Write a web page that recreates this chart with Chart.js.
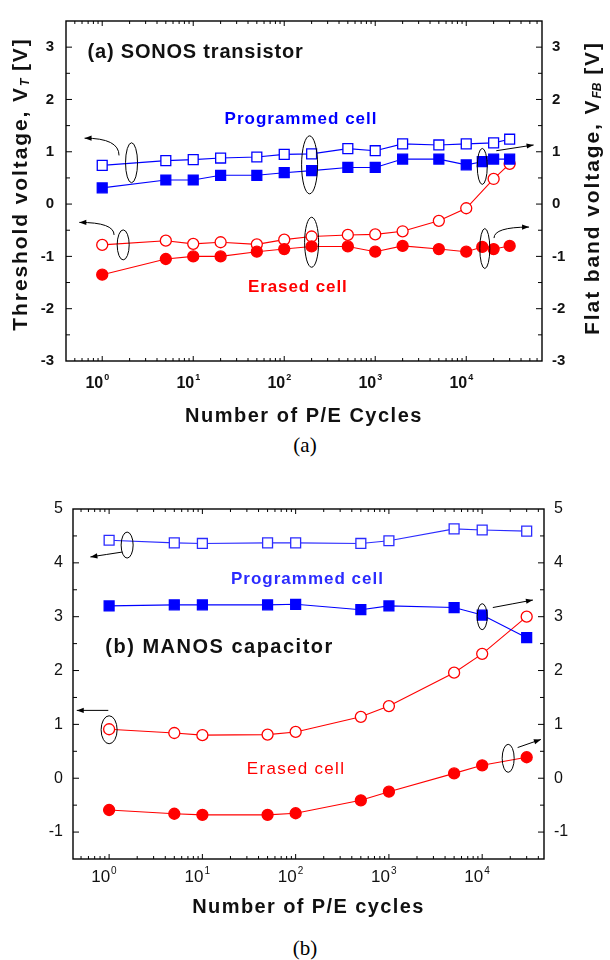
<!DOCTYPE html>
<html>
<head>
<meta charset="utf-8">
<script src="https://cdn.jsdelivr.net/npm/chart.js@4.4.1/dist/chart.umd.min.js"></script>
<style>
  body { margin: 0; background: #fff; width: 610px; height: 960px; position: relative; overflow: hidden; }
  .box { position: absolute; left: 0; width: 610px; }
  .cap { position: absolute; left: 0; width: 610px; text-align: center; font-family: "Liberation Serif", "Times New Roman", serif; font-size: 21px; line-height: 24px; color: #000; }
</style>
</head>
<body>
<div class="box" style="top:0;height:430px"><canvas id="chartA" width="610" height="430"></canvas></div>
<div class="cap" style="top:433px">(a)</div>
<div class="box" style="top:480px;height:450px"><canvas id="chartB" width="610" height="450"></canvas></div>
<div class="cap" style="top:936px">(b)</div>

<script>
/* ---------------------------------------------------------------
   data
   open symbols -> threshold voltage (left axis)
   filled symbols -> flat band voltage (right axis)
   --------------------------------------------------------------- */

// (a) SONOS transistor
const A_CYCLES = [1, 5, 10, 20, 50, 100, 200, 500, 1000, 2000, 5000, 10000, 20000, 30000];
const A_CYCLES_FB = [1, 5, 10, 20, 50, 100, 200, 500, 1000, 2000, 5000, 10000, 15000, 20000, 30000];
const A_PROG_VT = [0.74, 0.83, 0.85, 0.88, 0.90, 0.95, 0.96, 1.06, 1.02, 1.15, 1.13, 1.15, 1.17, 1.24];
const A_PROG_VFB = [0.31, 0.46, 0.46, 0.55, 0.55, 0.60, 0.64, 0.70, 0.70, 0.86, 0.86, 0.75, 0.81, 0.86, 0.86];
const A_ERASE_VT = [-0.78, -0.70, -0.76, -0.73, -0.77, -0.68, -0.62, -0.59, -0.58, -0.52, -0.32, -0.08, 0.48, 0.77];
const A_ERASE_VFB = [-1.35, -1.05, -1.00, -1.00, -0.91, -0.86, -0.81, -0.81, -0.91, -0.80, -0.86, -0.91, -0.82, -0.86, -0.80];

// (b) MANOS capacitor
const B_CYCLES = [1, 5, 10, 50, 100, 500, 1000, 5000, 10000, 30000];
const B_PROG_VT = [4.42, 4.37, 4.36, 4.37, 4.37, 4.36, 4.41, 4.63, 4.61, 4.59];
const B_PROG_VFB = [3.20, 3.22, 3.22, 3.22, 3.23, 3.13, 3.20, 3.17, 3.03, 2.61];
const B_ERASE_VT = [0.91, 0.84, 0.80, 0.81, 0.86, 1.14, 1.34, 1.96, 2.31, 3.00];
const B_ERASE_VFB = [-0.59, -0.66, -0.68, -0.68, -0.65, -0.41, -0.25, 0.09, 0.24, 0.39];

// tick labels
const DECADES = [1, 10, 100, 1000, 10000];
const DECADE_EXP = ['0', '1', '2', '3', '4'];

const INK = '#000';
const BLUE = '#0000ff';
const BLUE_B = '#2b2bff';
const RED = '#ff0000';
const SANS = '"Liberation Sans", Arial, sans-serif';

/* ---------------------------------------------------------------
   annotations (ellipses / arrows / notes), placed in data units
   --------------------------------------------------------------- */
const A_ELLIPSES = [[2.1, 0.79, 6, 20], [190, 0.75, 8, 29], [15000, 0.72, 5, 18],
                    [1.7, -0.78, 6, 15], [200, -0.73, 7, 25], [16000, -0.85, 5, 20]];
const A_ARROWS = [[1.53, 0.93, 0.64, 1.26, true], [21400, 1.02, 55000, 1.13, false],
                  [1.35, -0.59, 0.56, -0.35, true], [20200, -0.65, 49000, -0.44, true]];
const B_ELLIPSES = [[1.56, 4.33, 6, 13], [10000, 3.0, 5, 13], [1.0, 0.9, 8, 14], [19000, 0.37, 6, 14]];
const B_ARROWS = [[1.38, 4.20, 0.63, 4.11, false], [13000, 3.17, 35000, 3.31, false],
                  [0.98, 1.26, 0.45, 1.26, false], [24000, 0.57, 42600, 0.72, false]];

function series(xs, ys, axis, color, filled, style, radius) {
  return {
    data: xs.map((x, i) => ({ x, y: ys[i] })),
    yAxisID: axis,
    borderColor: color,
    backgroundColor: filled ? color : '#fff',
    pointBackgroundColor: filled ? color : '#fff',
    pointBorderColor: color,
    pointStyle: style,
    pointRadius: radius,
    pointHoverRadius: radius,
    pointBorderWidth: 1.3,
    borderWidth: 1.1,
    tension: 0,
    fill: false,
  };
}

function logTicks(min, max) {
  const out = [];
  for (let e = Math.floor(Math.log10(min)); e <= Math.ceil(Math.log10(max)); e++) {
    for (let m = 1; m <= 9; m++) {
      const v = m * Math.pow(10, e);
      if (v >= min && v <= max) out.push({ value: v });
    }
  }
  return out;
}

function rich(ctx, parts, cx, cy, rot) {
  ctx.save();
  ctx.translate(cx, cy);
  ctx.rotate(rot);
  ctx.textBaseline = 'middle';
  ctx.textAlign = 'left';
  let total = 0;
  parts.forEach(p => { ctx.font = p.font; ctx.letterSpacing = (p.ls || 0) + 'px'; p.w = ctx.measureText(p.text).width; total += p.w; });
  let x = -total / 2;
  parts.forEach(p => { ctx.font = p.font; ctx.letterSpacing = (p.ls || 0) + 'px'; ctx.fillText(p.text, x, p.dy || 0); x += p.w; });
  ctx.restore();
}

function arrow(ctx, s, e, curved) {
  const c = curved ? { x: s.x, y: e.y } : { x: (s.x + e.x) / 2, y: (s.y + e.y) / 2 };
  ctx.beginPath();
  ctx.moveTo(s.x, s.y);
  ctx.quadraticCurveTo(c.x, c.y, e.x, e.y);
  ctx.stroke();
  const ang = Math.atan2(e.y - c.y, e.x - c.x);
  const L = 7, W = 2.6;
  ctx.beginPath();
  ctx.moveTo(e.x, e.y);
  ctx.lineTo(e.x - L * Math.cos(ang) + W * Math.sin(ang), e.y - L * Math.sin(ang) - W * Math.cos(ang));
  ctx.lineTo(e.x - L * Math.cos(ang) - W * Math.sin(ang), e.y - L * Math.sin(ang) + W * Math.cos(ang));
  ctx.closePath();
  ctx.fill();
}

// frame, inward ticks, decade labels, axis titles and annotations
const decor = {
  id: 'decor',
  afterDraw(chart, args, o) {
    const { ctx, chartArea: a, scales } = chart;
    const xs = scales.x, yl = scales.y, yr = scales.y2;
    const px = v => xs.getPixelForValue(v);
    const py = v => yl.getPixelForValue(v);
    ctx.save();
    ctx.strokeStyle = INK;
    ctx.fillStyle = INK;

    ctx.lineWidth = 1;
    ctx.beginPath();
    xs.ticks.forEach(t => {
      const p = px(t.value);
      if (p < a.left + 1 || p > a.right - 1) return;
      const lg = Math.log10(t.value);
      const len = Math.abs(lg - Math.round(lg)) < 1e-6 ? 5 : 3;
      ctx.moveTo(p, a.bottom); ctx.lineTo(p, a.bottom - len);
      ctx.moveTo(p, a.top); ctx.lineTo(p, a.top + len);
    });
    [[yl, a.left, 1], [yr, a.right, -1]].forEach(([sc, x0, dir]) => {
      sc.ticks.forEach(t => {
        const p = sc.getPixelForValue(t.value);
        if (p < a.top + 1 || p > a.bottom - 1) return;
        const len = Number.isInteger(t.value) ? 6 : 4;
        ctx.moveTo(x0, p); ctx.lineTo(x0 + dir * len, p);
      });
    });
    ctx.stroke();

    ctx.lineWidth = 1.4;
    ctx.strokeRect(a.left, a.top, a.right - a.left, a.bottom - a.top);

    // decade labels 10^n
    ctx.fillStyle = '#111';
    ctx.textBaseline = 'middle';
    DECADES.forEach((d, i) => {
      const p = px(d);
      ctx.letterSpacing = '0px';
      ctx.font = o.decFont;
      ctx.textAlign = 'right';
      ctx.fillText('10', p + 1, a.bottom + o.decDy);
      ctx.font = o.expFont;
      ctx.textAlign = 'left';
      ctx.fillText(DECADE_EXP[i], p + 2, a.bottom + o.decDy - 6);
    });

    // x title
    ctx.font = o.xTitleFont;
    ctx.letterSpacing = o.xTitleLs + 'px';
    ctx.textAlign = 'center';
    ctx.fillText(o.xTitle, (a.left + a.right) / 2, a.bottom + o.xTitleDy);

    // y titles with subscripts
    const big = 'bold 21px ' + SANS, sub = 'italic bold 12px ' + SANS;
    rich(ctx, [{ text: 'Threshold voltage, V', font: big, ls: 1.9 },
               { text: 'T', font: sub, ls: 0, dy: 5 },
               { text: ' [V]', font: big, ls: 1.9 }], o.yLeft[0], o.yLeft[1], -Math.PI / 2);
    rich(ctx, [{ text: 'Flat band voltage, V', font: big, ls: o.rightLs },
               { text: 'FB', font: sub, ls: 0, dy: 5 },
               { text: ' [V]', font: big, ls: o.rightLs }], o.yRight[0], o.yRight[1], -Math.PI / 2);

    // ellipses and arrows
    ctx.strokeStyle = INK;
    ctx.fillStyle = INK;
    ctx.lineWidth = 1;
    o.ellipses.forEach(([x, y, rx, ry]) => {
      ctx.beginPath();
      ctx.ellipse(px(x), py(y), rx, ry, 0, 0, Math.PI * 2);
      ctx.stroke();
    });
    o.arrows.forEach(([x1, y1, x2, y2, curved]) => {
      arrow(ctx, { x: px(x1), y: py(y1) }, { x: px(x2), y: py(y2) }, curved);
    });

    // notes
    o.notes.forEach(n => {
      ctx.font = n.font;
      ctx.letterSpacing = n.ls + 'px';
      ctx.fillStyle = n.color;
      ctx.textAlign = n.align;
      ctx.textBaseline = 'middle';
      ctx.fillText(n.text, px(n.x), py(n.y));
    });
    ctx.restore();
  }
};

function makeChart(id, c) {
  const yTick = {
    stepSize: 0.5,
    autoSkip: false,
    color: '#111',
    font: c.tickFont,
    callback: v => (Number.isInteger(v) ? String(v) : ''),
  };
  return new Chart(document.getElementById(id), {
    type: 'line',
    data: { datasets: c.datasets },
    options: {
      responsive: false,
      animation: false,
      events: [],
      layout: { padding: { top: c.top, left: 0, right: 0, bottom: 0 } },
      plugins: { legend: { display: false }, tooltip: { enabled: false }, decor: c.decor },
      scales: {
        x: {
          type: 'logarithmic', min: c.xMin, max: c.xMax,
          afterBuildTicks: s => { s.ticks = logTicks(s.min, s.max); },
          afterFit: s => { s.height = c.xHeight; },
          ticks: { display: false },
          grid: { display: false },
          border: { display: false },
        },
        y: {
          position: 'left', min: c.yMin, max: c.yMax,
          afterFit: s => { s.width = c.leftW; },
          ticks: Object.assign({ padding: c.leftPad }, yTick),
          grid: { drawOnChartArea: false, drawTicks: false },
          border: { display: false },
        },
        y2: {
          position: 'right', min: c.yMin, max: c.yMax,
          afterFit: s => { s.width = c.rightW; },
          ticks: Object.assign({ padding: c.rightPad }, yTick),
          grid: { drawOnChartArea: false, drawTicks: false },
          border: { display: false },
        },
      },
    },
    plugins: [decor],
  });
}

makeChart('chartA', {
  top: 9, xHeight: 69, leftW: 66, rightW: 68, leftPad: 12, rightPad: 10,
  xMin: 0.4, xMax: 68000, yMin: -3, yMax: 3.5,
  tickFont: { family: SANS, size: 15, weight: 'bold' },
  datasets: [
    series(A_CYCLES_FB, A_PROG_VFB, 'y2', BLUE, true, 'rect', 7),
    series(A_CYCLES, A_PROG_VT, 'y', BLUE, false, 'rect', 7),
    series(A_CYCLES_FB, A_ERASE_VFB, 'y2', RED, true, 'circle', 5.5),
    series(A_CYCLES, A_ERASE_VT, 'y', RED, false, 'circle', 5.5),
  ],
  decor: {
    decFont: 'bold 16px ' + SANS, expFont: 'bold 9px ' + SANS, decDy: 23,
    xTitle: 'Number of P/E Cycles', xTitleFont: 'bold 20px ' + SANS, xTitleLs: 1.5, xTitleDy: 55,
    yLeft: [21, 184], yRight: [593, 188], rightLs: 1.9,
    ellipses: A_ELLIPSES, arrows: A_ARROWS,
    notes: [
      { text: '(a) SONOS transistor', x: 0.69, y: 2.89, font: 'bold 20px ' + SANS, ls: 0.8, color: '#111', align: 'left' },
      { text: 'Programmed cell', x: 153, y: 1.63, font: 'bold 17px ' + SANS, ls: 1, color: BLUE, align: 'center' },
      { text: 'Erased cell', x: 141, y: -1.59, font: 'bold 17px ' + SANS, ls: 0.9, color: RED, align: 'center' },
    ],
  },
});

makeChart('chartB', {
  top: 29, xHeight: 71, leftW: 73, rightW: 66, leftPad: 10, rightPad: 10,
  xMin: 0.41, xMax: 46000, yMin: -1.5, yMax: 5,
  tickFont: { family: SANS, size: 16 },
  datasets: [
    series(B_CYCLES, B_PROG_VFB, 'y2', BLUE, true, 'rect', 7),
    series(B_CYCLES, B_PROG_VT, 'y', BLUE_B, false, 'rect', 7),
    series(B_CYCLES, B_ERASE_VFB, 'y2', RED, true, 'circle', 5.5),
    series(B_CYCLES, B_ERASE_VT, 'y', RED, false, 'circle', 5.5),
  ],
  decor: {
    decFont: '17px ' + SANS, expFont: '10px ' + SANS, decDy: 18,
    xTitle: 'Number of P/E cycles', xTitleFont: 'bold 20px ' + SANS, xTitleLs: 1.4, xTitleDy: 48,
    yLeft: [21, 672], yRight: [591, 675], rightLs: 1.4,
    ellipses: B_ELLIPSES, arrows: B_ARROWS,
    notes: [
      { text: '(b) MANOS capacitor', x: 0.91, y: 2.43, font: 'bold 20px ' + SANS, ls: 1.5, color: '#111', align: 'left' },
      { text: 'Programmed cell', x: 134, y: 3.70, font: 'bold 17px ' + SANS, ls: 1, color: BLUE_B, align: 'center' },
      { text: 'Erased cell', x: 101, y: 0.17, font: '17px ' + SANS, ls: 1.3, color: RED, align: 'center' },
    ],
  },
});
</script>
</body>
</html>
